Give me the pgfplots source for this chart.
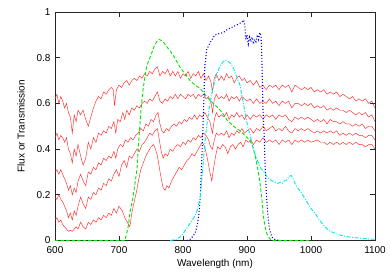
\documentclass[border=0pt]{standalone}
\usepackage{fontspec}
\setmainfont{Liberation Sans}
\usepackage{pgfplots}
\pgfplotsset{compat=1.18}

\definecolor{specred}{RGB}{255,40,40}
\definecolor{fgreen}{RGB}{0,230,0}
\definecolor{fblue}{RGB}{0,0,235}
\definecolor{fcyan}{RGB}{0,235,235}

\begin{document}
\begin{tikzpicture}
\begin{axis}[
    name=ax,
    scale only axis,
    width=320pt, height=228.5pt,
    xmin=600, xmax=1100,
    ymin=0, ymax=1,
    xtick={600,700,800,900,1000,1100},
    ytick={0,0.2,0.4,0.6,0.8,1},
    font=\fontsize{10}{12}\selectfont,
    /pgf/number format/assume math mode=true,
    /pgf/number format/1000 sep={},
    xticklabel style={yshift=-2pt},
    yticklabel style={xshift=-1pt},
    xlabel={Wavelength (nm)},
    ylabel={Flux or Transmission},
    ylabel shift=5pt,
    xlabel shift=-1pt,
    major tick length=5pt,
    axis line style={black!85, line width=0.8pt},
    every tick/.style={black!85, line width=0.8pt},
    clip=true,
]

% stellar spectra
\addplot[specred, line width=0.45pt] coordinates {
(600,0.62)(603,0.64)(606,0.60)(609,0.63)(612,0.61)(615,0.58)(618,0.60)(621,0.56)(624,0.54)(627,0.47)
(630,0.55)(633,0.52)(636,0.57)(640,0.55)(644,0.57)(648,0.53)(652,0.50)(656,0.54)(660,0.58)(664,0.61)
(668,0.63)(672,0.62)(676,0.65)(680,0.64)(684,0.66)(688,0.67)(691,0.66)(693,0.59)(696,0.66)(700,0.68)
(704,0.67)(708,0.69)(712,0.70)(716,0.68)(720,0.70)(724,0.71)(728,0.70)(732,0.72)(736,0.71)(740,0.73)
(744,0.72)(748,0.74)(752,0.73)(756,0.75)(760,0.76)(764,0.72)(768,0.74)(772,0.73)(776,0.75)(780,0.72)
(784,0.74)(788,0.72)(792,0.74)(796,0.71)(800,0.73)(804,0.72)(808,0.74)(812,0.71)(816,0.73)(820,0.72)
(824,0.74)(828,0.71)(832,0.73)(836,0.70)(840,0.72)(844,0.69)(846,0.65)(849,0.71)(852,0.73)(856,0.70)
(860,0.72)(864,0.70)(868,0.73)(872,0.71)(876,0.72)(880,0.69)(884,0.71)(888,0.72)(892,0.70)(896,0.71)
(900,0.69)(905,0.70)(910,0.68)(915,0.70)(920,0.67)(925,0.68)(930,0.66)(935,0.68)(940,0.67)(945,0.68)
(950,0.66)(955,0.68)(960,0.67)(965,0.68)(970,0.65)(975,0.68)(980,0.67)(985,0.66)(990,0.67)(995,0.66)
(1000,0.67)(1005,0.65)(1010,0.66)(1015,0.65)(1020,0.66)(1025,0.64)(1030,0.65)(1035,0.64)(1040,0.65)(1045,0.63)
(1050,0.64)(1055,0.63)(1060,0.62)(1065,0.63)(1070,0.61)(1075,0.62)(1080,0.61)(1085,0.62)(1090,0.60)(1095,0.61)
(1100,0.58)
};
\addplot[specred, line width=0.45pt] coordinates {
(600,0.45)(603,0.47)(606,0.44)(609,0.46)(612,0.45)(615,0.43)(618,0.45)(621,0.40)(624,0.38)(627,0.34)
(630,0.40)(633,0.37)(636,0.42)(640,0.37)(644,0.33)(648,0.36)(652,0.43)(656,0.40)(660,0.45)(664,0.43)
(668,0.47)(672,0.46)(676,0.48)(680,0.47)(684,0.50)(688,0.49)(692,0.52)(695,0.47)(698,0.53)(702,0.52)
(706,0.56)(709,0.53)(712,0.57)(716,0.55)(720,0.58)(724,0.57)(728,0.59)(732,0.58)(736,0.60)(740,0.61)
(744,0.60)(748,0.62)(752,0.61)(756,0.63)(760,0.65)(764,0.61)(768,0.60)(772,0.62)(776,0.61)(780,0.63)
(784,0.62)(788,0.64)(792,0.62)(796,0.64)(800,0.63)(804,0.62)(808,0.64)(812,0.63)(816,0.64)(820,0.62)
(824,0.64)(828,0.63)(832,0.64)(836,0.62)(840,0.63)(844,0.60)(846,0.56)(849,0.62)(852,0.64)(856,0.62)
(860,0.63)(864,0.62)(868,0.64)(872,0.61)(876,0.63)(880,0.62)(884,0.63)(888,0.61)(892,0.63)(896,0.62)
(900,0.61)(905,0.62)(910,0.60)(915,0.62)(920,0.60)(925,0.61)(930,0.60)(935,0.62)(940,0.60)(945,0.61)
(950,0.59)(955,0.61)(960,0.60)(965,0.61)(970,0.58)(975,0.60)(980,0.60)(985,0.59)(990,0.60)(995,0.59)
(1000,0.60)(1005,0.58)(1010,0.59)(1015,0.58)(1020,0.59)(1025,0.57)(1030,0.58)(1035,0.57)(1040,0.58)(1045,0.57)
(1050,0.57)(1055,0.56)(1060,0.57)(1065,0.56)(1070,0.55)(1075,0.56)(1080,0.55)(1085,0.56)(1090,0.54)(1095,0.55)
(1100,0.52)
};
\addplot[specred, line width=0.45pt] coordinates {
(600,0.30)(603,0.31)(606,0.29)(609,0.31)(612,0.29)(615,0.27)(618,0.25)(621,0.22)(624,0.24)(627,0.20)
(630,0.23)(633,0.21)(636,0.26)(640,0.29)(644,0.26)(648,0.24)(652,0.30)(656,0.29)(660,0.32)(664,0.31)
(668,0.34)(672,0.33)(676,0.36)(680,0.35)(684,0.37)(688,0.36)(692,0.39)(695,0.36)(698,0.40)(702,0.42)
(706,0.41)(710,0.44)(714,0.43)(718,0.45)(722,0.44)(726,0.46)(730,0.47)(734,0.49)(738,0.48)(742,0.51)
(746,0.50)(750,0.53)(754,0.52)(758,0.55)(761,0.56)(764,0.51)(767,0.48)(770,0.47)(774,0.49)(778,0.48)
(782,0.50)(786,0.51)(790,0.50)(794,0.52)(798,0.51)(802,0.53)(806,0.52)(810,0.54)(814,0.53)(818,0.55)
(822,0.53)(826,0.55)(830,0.54)(834,0.56)(838,0.54)(842,0.52)(846,0.47)(849,0.53)(852,0.56)(856,0.54)
(860,0.55)(864,0.54)(868,0.56)(872,0.53)(876,0.55)(880,0.54)(884,0.56)(888,0.54)(892,0.55)(896,0.53)
(900,0.55)(905,0.53)(910,0.55)(915,0.54)(920,0.55)(925,0.53)(930,0.55)(935,0.54)(940,0.55)(945,0.53)
(950,0.55)(955,0.54)(960,0.55)(965,0.53)(970,0.52)(975,0.54)(980,0.53)(985,0.54)(990,0.53)(995,0.54)
(1000,0.53)(1005,0.52)(1010,0.53)(1015,0.52)(1020,0.53)(1025,0.51)(1030,0.53)(1035,0.52)(1040,0.52)(1045,0.51)
(1050,0.52)(1055,0.51)(1060,0.51)(1065,0.50)(1070,0.51)(1075,0.50)(1080,0.51)(1085,0.49)(1090,0.50)(1095,0.50)
(1100,0.48)
};
\addplot[specred, line width=0.45pt] coordinates {
(600,0.19)(603,0.18)(606,0.20)(609,0.18)(612,0.17)(615,0.15)(618,0.13)(621,0.10)(624,0.12)(627,0.09)
(630,0.13)(633,0.11)(636,0.15)(640,0.19)(644,0.16)(648,0.14)(652,0.19)(656,0.18)(660,0.21)(664,0.20)
(668,0.23)(672,0.22)(676,0.25)(680,0.24)(684,0.27)(688,0.26)(692,0.29)(696,0.31)(700,0.28)(704,0.33)
(708,0.35)(712,0.32)(716,0.37)(720,0.36)(724,0.38)(728,0.40)(732,0.39)(736,0.42)(740,0.43)(744,0.45)
(748,0.47)(752,0.46)(756,0.48)(760,0.49)(763,0.44)(766,0.39)(769,0.36)(772,0.38)(776,0.37)(780,0.40)
(784,0.39)(788,0.41)(792,0.42)(796,0.41)(800,0.43)(804,0.42)(808,0.44)(812,0.43)(816,0.45)(820,0.44)
(824,0.46)(828,0.45)(832,0.47)(836,0.46)(840,0.44)(843,0.41)(846,0.40)(849,0.44)(852,0.47)(856,0.46)
(860,0.47)(864,0.46)(868,0.48)(872,0.45)(876,0.47)(880,0.46)(884,0.48)(888,0.47)(892,0.49)(896,0.47)
(900,0.48)(905,0.49)(910,0.47)(915,0.49)(920,0.48)(925,0.50)(930,0.48)(935,0.49)(940,0.50)(945,0.48)
(950,0.49)(955,0.48)(960,0.50)(965,0.48)(970,0.47)(975,0.49)(980,0.48)(985,0.49)(990,0.48)(995,0.49)
(1000,0.48)(1005,0.47)(1010,0.48)(1015,0.47)(1020,0.48)(1025,0.47)(1030,0.48)(1035,0.47)(1040,0.48)(1045,0.46)
(1050,0.47)(1055,0.46)(1060,0.47)(1065,0.46)(1070,0.47)(1075,0.46)(1080,0.46)(1085,0.45)(1090,0.46)(1095,0.46)
(1100,0.44)
};
\addplot[specred, line width=0.45pt] coordinates {
(600,0.09)(603,0.10)(606,0.08)(609,0.09)(612,0.07)(615,0.06)(618,0.05)(621,0.04)(624,0.045)(627,0.04)
(630,0.05)(633,0.06)(636,0.05)(640,0.08)(644,0.06)(648,0.05)(652,0.08)(656,0.07)(660,0.09)(664,0.08)
(668,0.10)(672,0.09)(676,0.11)(680,0.10)(684,0.12)(688,0.11)(692,0.14)(696,0.12)(700,0.15)(705,0.13)
(709,0.10)(713,0.08)(717,0.06)(720,0.12)(723,0.16)(727,0.21)(731,0.27)(734,0.31)(738,0.34)(742,0.37)
(746,0.39)(750,0.41)(754,0.42)(757,0.40)(760,0.37)(763,0.32)(766,0.27)(769,0.23)(772,0.22)(775,0.24)
(778,0.23)(782,0.26)(786,0.28)(790,0.30)(794,0.32)(798,0.31)(802,0.33)(806,0.35)(810,0.36)(814,0.38)
(818,0.37)(822,0.39)(826,0.41)(830,0.43)(834,0.41)(838,0.36)(842,0.30)(845,0.26)(848,0.32)(851,0.37)
(854,0.41)(858,0.40)(862,0.42)(866,0.41)(870,0.38)(874,0.41)(878,0.42)(882,0.40)(886,0.42)(890,0.43)
(894,0.41)(898,0.44)(902,0.43)(906,0.44)(910,0.42)(915,0.44)(920,0.43)(925,0.45)(930,0.43)(935,0.44)
(940,0.43)(945,0.44)(950,0.42)(955,0.44)(960,0.43)(965,0.44)(970,0.42)(975,0.44)(980,0.43)(985,0.44)
(990,0.43)(995,0.44)(1000,0.43)(1010,0.44)(1015,0.43)(1020,0.43)(1025,0.42)(1030,0.43)(1035,0.42)(1040,0.43)
(1045,0.42)(1050,0.43)(1055,0.42)(1060,0.43)(1065,0.42)(1070,0.43)(1075,0.42)(1080,0.42)(1085,0.41)(1090,0.42)
(1095,0.42)(1100,0.40)
};

% filter transmission curves
\addplot[fgreen, line width=0.9pt, dash pattern=on 3.5pt off 2pt] coordinates {
(600,0)(700,0)(709,0)(712,0.03)(715,0.07)(717,0.12)(722,0.19)(725,0.25)(728,0.31)(730,0.40)
(732,0.48)(734,0.56)(736,0.62)(738,0.67)(743,0.76)(747,0.79)(751,0.82)(755,0.85)(759,0.87)(763,0.88)
(766,0.875)(769,0.87)(774,0.85)(780,0.83)(787,0.80)(795,0.76)(803,0.73)(811,0.70)(819,0.68)(827,0.665)
(837,0.63)(847,0.60)(855,0.58)(862,0.557)(869,0.527)(879,0.50)(889,0.48)(897,0.46)(905,0.435)(909,0.41)
(912,0.38)(915,0.34)(917,0.31)(920,0.26)(922,0.21)(923,0.19)(925,0.12)(927,0.08)(929,0.05)(931,0.03)
(935,0.01)(939,0)(1000,0)
};
\addplot[fblue, line width=1.1pt, dash pattern=on 1pt off 2pt] coordinates {
(806,0)(811,0.005)(816,0.02)(820,0.04)(823,0.08)(825,0.12)(827,0.19)(829,0.33)(831,0.48)(833,0.65)
(834,0.76)(837,0.835)(842,0.865)(850,0.90)(856,0.905)(863,0.91)(870,0.925)(878,0.935)(885,0.945)(892,0.955)
(895,0.965)(897,0.93)(898,0.88)(900,0.90)(902,0.86)(904,0.89)(906,0.87)(908,0.89)(910,0.86)(912,0.88)
(914,0.87)(916,0.90)(918,0.88)(920,0.91)(922,0.89)(923,0.82)(924,0.70)(925,0.57)(927,0.45)(928,0.35)
(930,0.22)(932,0.13)(935,0.05)(939,0.015)(943,0.005)(950,0)
};
\addplot[fcyan, line width=0.9pt, dash pattern=on 4pt off 1.5pt on 1pt off 1.5pt] coordinates {
(780,0)(790,0.005)(795,0.015)(800,0.03)(805,0.05)(811,0.075)(817,0.10)(822,0.13)(827,0.19)(831,0.32)
(834,0.42)(837,0.50)(841,0.58)(845,0.645)(849,0.69)(853,0.73)(858,0.765)(862,0.78)(866,0.79)(870,0.785)
(874,0.775)(878,0.76)(884,0.715)(889,0.68)(893,0.62)(897,0.56)(901,0.50)(905,0.46)(908,0.42)(912,0.38)
(915,0.36)(919,0.33)(923,0.31)(927,0.30)(931,0.28)(934,0.27)(937,0.265)(940,0.26)(944,0.255)(948,0.25)
(952,0.255)(955,0.25)(958,0.26)(962,0.265)(966,0.28)(969,0.285)(972,0.27)(975,0.25)(978,0.235)(982,0.22)
(986,0.205)(990,0.185)(995,0.163)(1000,0.14)(1006,0.12)(1012,0.095)(1017,0.077)(1022,0.06)(1027,0.046)(1032,0.038)
(1037,0.032)(1045,0.024)(1058,0.016)(1070,0.012)(1080,0.01)(1090,0.007)(1100,0.005)
};
\end{axis}
\pgfresetboundingbox
\path ([shift={(-55pt,-32.5pt)}]ax.south west) rectangle ([shift={(15pt,12pt)}]ax.north east);
\end{tikzpicture}
\end{document}
